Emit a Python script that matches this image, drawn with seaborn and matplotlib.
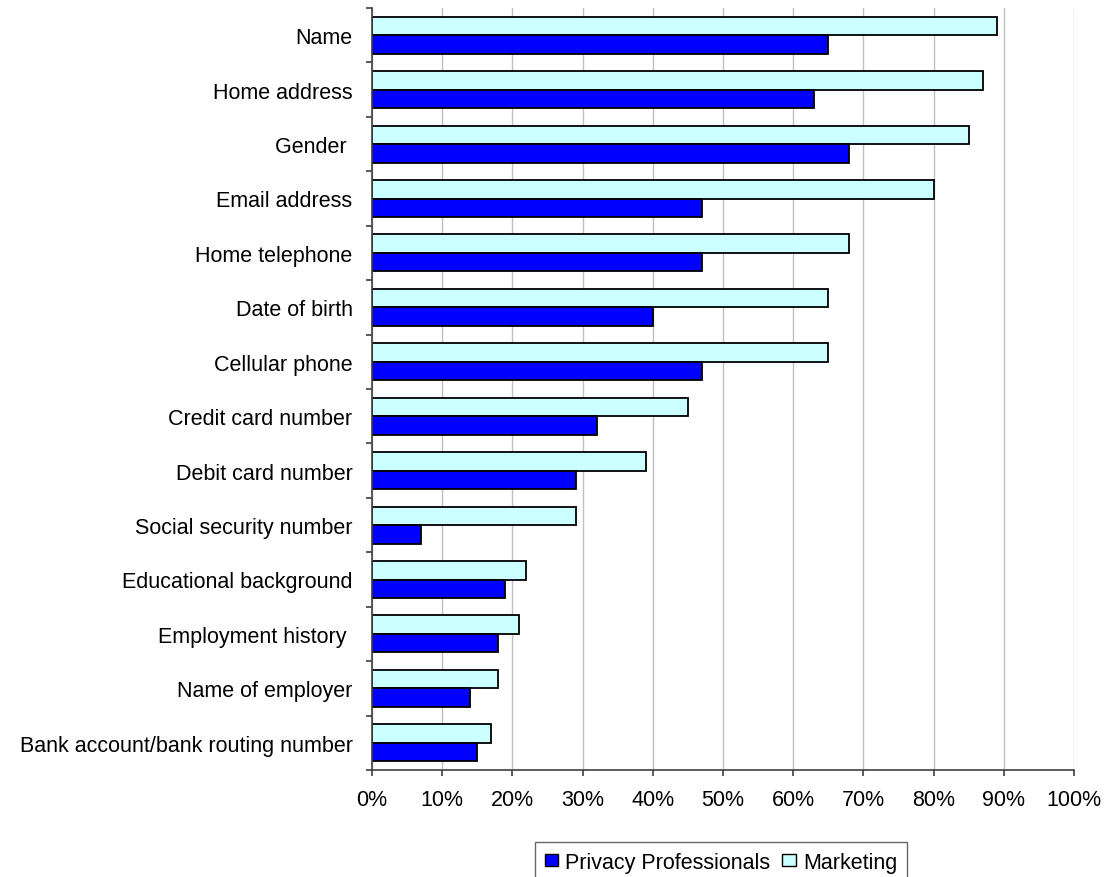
import matplotlib
matplotlib.use("Agg")
import matplotlib.pyplot as plt
from matplotlib.patches import Patch
from matplotlib.ticker import FixedLocator, PercentFormatter
import seaborn as sns
import pandas as pd
import numpy as np

categories = [
    "Name", "Home address", "Gender ", "Email address", "Home telephone",
    "Date of birth", "Cellular phone", "Credit card number", "Debit card number",
    "Social security number", "Educational background", "Employment history ",
    "Name of employer", "Bank account/bank routing number",
]
privacy_professionals = [65, 63, 68, 47, 47, 40, 47, 32, 29, 7, 19, 18, 14, 15]
marketing = [89, 87, 85, 80, 68, 65, 65, 45, 39, 29, 22, 21, 18, 17]
series_names = ["Privacy Professionals", "Marketing"]
x_ticks = list(range(0, 101, 10))

sns.set_theme(style="white")
plt.rcParams["font.family"] = ["Liberation Sans", "DejaVu Sans"]
plt.rcParams["text.color"] = "black"

df = pd.DataFrame({
    "category": categories * 2,
    "value": marketing + privacy_professionals,
    "series": [series_names[1]] * len(categories) + [series_names[0]] * len(categories),
})

colors = {"Privacy Professionals": "#0000FF", "Marketing": "#CCFFFF"}

W, H = 1107, 878
fig = plt.figure(figsize=(W / 100, H / 100), dpi=100)
ax = fig.add_axes([372 / W, 1 - 771 / H, (1074 - 372) / W, (771 - 9) / H])

sns.barplot(
    data=df, x="value", y="category", hue="series",
    hue_order=["Marketing", "Privacy Professionals"], order=categories,
    palette=colors, orient="h", width=0.68, edgecolor="black", linewidth=1.3,
    saturation=1, legend=False, ax=ax,
)

ax.set_xlim(0, 100)
ax.set_ylim(len(categories) - 0.5, -0.5)
ax.xaxis.set_major_locator(FixedLocator(x_ticks))
ax.xaxis.set_major_formatter(PercentFormatter(decimals=0))
ax.grid(axis="x", color="#c0c0c0", linewidth=1)
ax.set_axisbelow(True)
ax.set_xlabel("")
ax.set_ylabel("")

for side in ("top", "right"):
    ax.spines[side].set_visible(False)
for side in ("left", "bottom"):
    ax.spines[side].set_color("#404040")
    ax.spines[side].set_linewidth(1.2)

# category separators on the y axis, labels centred without ticks
ax.set_yticks(np.arange(len(categories)))
ax.set_yticklabels(categories, fontsize=15.5, color="black")
ax.yaxis.set_minor_locator(FixedLocator(np.arange(len(categories) + 1) - 0.5))
ax.tick_params(axis="y", which="major", length=0, pad=14)
ax.tick_params(axis="y", which="minor", length=4.5, width=1.2, color="#404040", direction="out", left=True)
ax.tick_params(axis="x", which="major", length=4.5, width=1.2, color="#404040", direction="out",
               bottom=True, labelsize=15.5, labelcolor="black", pad=9)

handles = [Patch(facecolor=colors[s], edgecolor="black", linewidth=1) for s in series_names]
leg = fig.legend(
    handles, series_names, loc="upper center", bbox_to_anchor=(721 / W, 1 - 843 / H),
    ncol=2, fontsize=15.5, frameon=True, fancybox=False, edgecolor="#404040",
    handlelength=0.62, handleheight=0.45, handletextpad=0.35, columnspacing=0.55,
    borderpad=0.45, borderaxespad=0,
)
leg.get_frame().set_linewidth(1)

fig.savefig("out.png", dpi=100, facecolor="white")
